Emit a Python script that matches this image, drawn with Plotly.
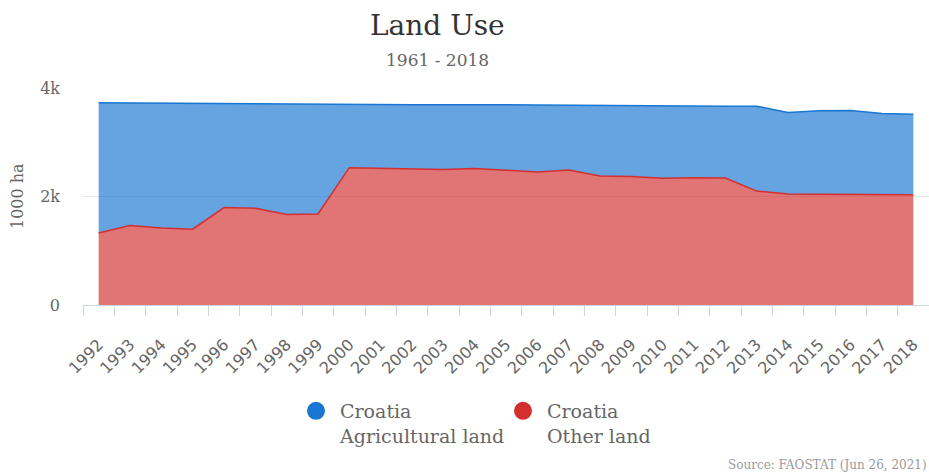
import plotly.graph_objects as go

years = [str(y) for y in range(1992, 2019)]
other_land = [1329, 1465, 1420, 1397, 1796, 1783, 1667, 1679, 2531, 2520, 2510, 2500, 2518,
              2480, 2450, 2487, 2380, 2370, 2335, 2347, 2340, 2100, 2046, 2040, 2040, 2035, 2030]
agricultural_land = [2401, 2260, 2300, 2318, 1924, 1932, 2038, 2021, 1169, 1175, 1180, 1190, 1177,
                     1210, 1235, 1193, 1295, 1300, 1330, 1318, 1325, 1565, 1504, 1540, 1545, 1495, 1485]

BLUE = "#1976d2"
RED = "#d32f2f"
SERIF = "DejaVu Serif"
W, H = 929, 473

fig = go.Figure()
fig.add_trace(go.Scatter(x=years, y=other_land, stackgroup="s", mode="lines",
                         line=dict(color=RED, width=1.5), fillcolor="rgba(211,47,47,0.67)",
                         showlegend=False, name="Other land"))
fig.add_trace(go.Scatter(x=years, y=agricultural_land, stackgroup="s", mode="lines",
                         line=dict(color=BLUE, width=1.5), fillcolor="rgba(25,118,210,0.67)",
                         showlegend=False, name="Agricultural land"))
# legend entries
fig.add_trace(go.Scatter(x=[None], y=[None], mode="markers",
                         marker=dict(color=BLUE, size=16, symbol="circle", line=dict(color=BLUE, width=2)),
                         name="Croatia<br>Agricultural land"))
fig.add_trace(go.Scatter(x=[None], y=[None], mode="markers",
                         marker=dict(color=RED, size=16, symbol="circle", line=dict(color=RED, width=2)),
                         name="Croatia<br>Other land"))

plot_top, plot_bot = 88, 305
ph = plot_bot - plot_top


def py(ypix):
    return (plot_bot - ypix) / ph


def px(xpix):
    return (xpix - 83) / (W - 83)


fig.update_layout(
    width=W, height=H, autosize=False,
    margin=dict(l=83, r=0, t=88, b=H - plot_bot, autoexpand=False),
    paper_bgcolor="white", plot_bgcolor="white",
    showlegend=True,
    legend=dict(orientation="h", x=px(292), xanchor="left", y=py(392), yanchor="top",
                font=dict(family=SERIF, size=19, color="#666666"),
                itemsizing="trace", itemwidth=38, traceorder="normal", valign="top",
                entrywidth=154),
    annotations=[
        dict(text="Land Use", x=px(437), xref="paper", y=py(25), yref="paper", showarrow=False,
             xanchor="center", yanchor="middle", font=dict(family=SERIF, size=28, color="#333333")),
        dict(text="1961 - 2018", x=px(437), xref="paper", y=py(60), yref="paper", showarrow=False,
             xanchor="center", yanchor="middle", font=dict(family=SERIF, size=17, color="#666666")),
        dict(text="1000 ha", textangle=-90, x=px(17), xref="paper", y=py(196), yref="paper",
             showarrow=False, xanchor="center", yanchor="middle",
             font=dict(family=SERIF, size=16, color="#666666")),
        dict(text="Source: FAOSTAT (Jun 26, 2021)", x=1, xref="paper", y=py(465), yref="paper",
             showarrow=False, xanchor="right", yanchor="middle",
             font=dict(family=SERIF, size=12, color="#999999")),
    ],
)

fig.update_xaxes(type="category", tickson="boundaries", ticks="outside", ticklen=10,
                 tickcolor="#ccd6eb", showline=True, linecolor="#ccd6eb", linewidth=1,
                 showgrid=False, tickangle=-45, automargin=False,
                 tickfont=dict(family="DejaVu Sans", size=16, color="#666666"),
                 ticklabelstandoff=23, range=[-0.5, 26.5])
fig.update_yaxes(range=[0, 4000], tickvals=[0, 2000, 4000], ticktext=["0", "2k", "4k"],
                 showgrid=True, gridcolor="#e6e6e6", zeroline=False, showline=False,
                 ticks="", automargin=False, tickfont=dict(family=SERIF, size=16, color="#666666"),
                 ticklabelstandoff=22)

post = ("document.documentElement.style.margin='0';document.body.style.margin='0';"
        "document.body.style.overflow='hidden';")
fig.write_html("out.html", post_script=post, config={"displayModeBar": False})
